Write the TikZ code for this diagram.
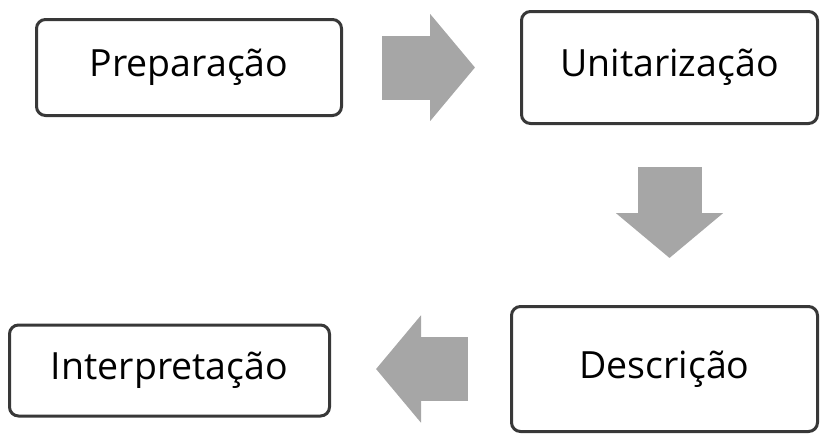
\documentclass[tikz,border=0pt]{standalone}
\usepackage{fontspec}
\setmainfont{Open Sans}
\usetikzlibrary{arrows.meta}

\definecolor{boxline}{HTML}{383838}
\definecolor{arrowgray}{HTML}{A6A6A6}

\tikzset{
  stage/.style={draw=boxline, line width=3pt, rounded corners=9pt, fill=white,
    inner sep=0pt, font=\fontsize{37.5}{42}\selectfont},
  flow/.style={draw=arrowgray, line width=64pt,
    -{Triangle[length=45pt,width=105pt]}}
}

\begin{document}
\begin{tikzpicture}[x=1pt, y=-1pt]
\useasboundingbox (0,0) rectangle (822,437);

% the four stages
\node[stage, minimum width=305pt, minimum height=96pt] (prep) at (189,67.5) {Preparação};
\node[stage, minimum width=296pt, minimum height=112pt] (unit) at (669.5,67.5) {Unitarização};
\node[stage, minimum width=306pt, minimum height=125pt] (desc) at (664.5,369) {Descrição};
\node[stage, minimum width=320pt, minimum height=91pt] (interp) at (169.5,370.5) {Interpretação};

% block arrows between the stages
\draw[flow, shorten <=39pt, shorten >=45pt] (prep.east) -- (unit.west);
\draw[flow, shorten <=42pt, shorten >=47pt] (unit.south) -- (unit.south |- desc.north);
\draw[flow, shorten <=42pt, shorten >=45pt] (desc.west) -- (desc.west -| interp.east);
\end{tikzpicture}
\end{document}
